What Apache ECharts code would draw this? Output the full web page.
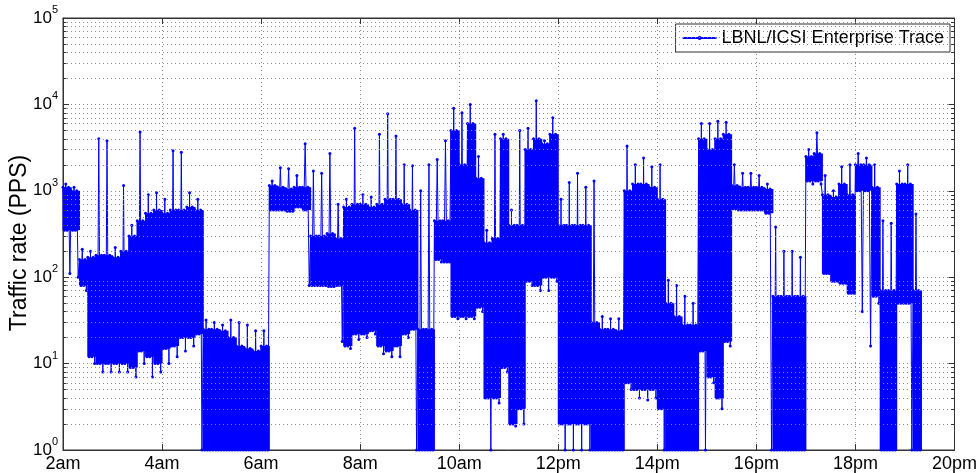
<!DOCTYPE html>
<html><head><meta charset="utf-8">
<script src="https://cdn.jsdelivr.net/npm/echarts@6/dist/echarts.min.js"></script>
<style>html,body{margin:0;padding:0;background:#fff}#c{width:980px;height:473px}</style>
</head><body><div id="c"></div>
<script>
const seriesName = 'LBNL/ICSI Enterprise Trace';
const yAxisName = 'Traffic rate (PPS)';
const startHour = 2;          // trace starts at 2am
const binMinutes = 10;        // each entry below summarises a 10-minute slice
// per-slice highest spike (PPS)
const binHi = [1200,1100,210,200,4000,3800,220,1150,400,4800,
  900,950,800,2900,2800,950,800,32,30,28,
  32,30,28,24,24,1300,1850,1800,1500,3500,
  1700,1600,2700,700,800,5300,900,850,4500,7800,
  4300,2000,1950,1000,2000,2300,3800,9000,8000,10000,
  2500,350,4500,4500,600,5000,5300,11000,3800,7000,
  800,1250,1600,1100,1300,35,33,33,3300,2000,
  2400,1900,2000,92,80,60,50,6000,6000,6400,
  6200,2000,1600,1600,1500,1200,380,200,200,170,
  3000,4700,1500,1000,1900,2000,2700,2400,2000,450,
  420,1700,2000,540];
// per-slice top of the dense core (PPS)
const binTop = [1100,1000,160,170,180,180,170,200,300,450,
  550,600,550,600,600,650,600,25,25,24,
  20,16,15,14,16,1150,1100,1050,1100,1100,
  300,300,320,280,650,700,700,650,700,800,
  800,700,600,25,25,450,450,5000,2000,6000,
  1400,250,280,4000,400,400,3000,4000,3500,4500,
  400,400,400,400,30,25,25,24,1000,1200,
  1200,1100,800,50,35,28,28,4000,3000,4000,
  4500,1150,1100,1100,1100,1050,60,60,60,60,
  2500,2700,900,850,1200,900,2000,2000,1100,70,
  70,1200,1200,70];
// per-slice bottom of the dense core (PPS)
const binLo = [350,350,80,12,10,10,10,10,9,14,
  12,10,15,16,20,20,22,1,1,1,
  1,1,1,1,1,600,600,580,650,600,
  80,80,78,80,16,22,22,24,16,14,
  16,22,25,1,1,160,150,35,35,35,
  45,4,4,9,2,3,90,80,100,100,
  2,2,2,2,1,1,1,1,6,5,
  5,5,3,1,1,1,1,14,7,4,
  18,620,600,600,600,550,1,1,1,1,
  1300,1300,110,90,85,65,1000,1000,60,1,
  1,50,50,1];
// per-slice lowest outlier (PPS)
const binDip = [110,100,70,10,8,8,8,8,7,10,
  7,8,10,12,14,16,1,1,1,1,
  1,1,1,1,1,600,600,580,650,80,
  80,80,78,18,15,19,20,22,13,12,
  12,20,1,1,1,150,150,33,33,33,
  40,1,3.5,8,1.9,2,80,70,70,90,
  1,1,1,1,1,1,1,1,5,4,
  3.8,4,1,1,1,1,1,1,6,3,
  16,600,600,600,600,1,1,1,1,1,
  1200,1200,110,90,85,65,40,16,50,1,
  1,50,1,1];
const xTickHours = [2,4,6,8,10,12,14,16,18,20];
const xTickLabels = ['2am','4am','6am','8am','10am','12pm','14pm','16pm','18pm','20pm'];
const yDecades = [1,10,100,1000,10000];
const yMinorMultipliers = [2,3,4,5,6,7,8,9];

const FONT = '"Liberation Sans", Arial, Helvetica, sans-serif';
const AXIS = '#333';
const GRID = '#8a8a8a';
const BLUE = '#0000ff';

// trace points built from the typed slices
const binH = binMinutes / 60;
const points = [];
const coreBands = [];
for (let i = 0; i < binHi.length; i++) {
  const t0 = startHour + i * binH;
  const vals = [binTop[i], binLo[i], binHi[i], binLo[i], binTop[i], binDip[i]];
  for (let k = 0; k < vals.length; k++) {
    points.push([t0 + k * binH / vals.length, vals[k]]);
  }
  coreBands.push([t0, t0 + binH, binLo[i], binTop[i]]);
}

const minorVals = [];
yDecades.forEach(d => yMinorMultipliers.forEach(m => minorVals.push(m * d)));
const minorGrid = minorVals.map(v => ({yAxis: v}));
const minorTicks = [];
minorVals.forEach(v => {
  minorTicks.push([{coord: [2, v]}, {coord: [2.07, v]}]);
  minorTicks.push([{coord: [19.93, v]}, {coord: [20, v]}]);
});

const labelMap = {};
xTickHours.forEach((h, i) => labelMap[h] = xTickLabels[i]);

const chart = echarts.init(document.getElementById('c'), null, {renderer: 'canvas'});
chart.setOption({
  animation: false,
  backgroundColor: '#fff',
  grid: {left: 63, right: 24, top: 18, bottom: 22, show: true, borderColor: AXIS, borderWidth: 1, backgroundColor: 'transparent'},
  legend: {
    data: [seriesName], right: 30, top: 24,
    backgroundColor: '#fff', borderColor: AXIS, borderWidth: 1,
    padding: [5, 6, 5, 6], itemWidth: 34, itemHeight: 5,
    textStyle: {fontSize: 18, fontFamily: FONT, color: '#000'}
  },
  graphic: [{
    type: 'text', x: 20, y: 243, rotation: Math.PI / 2, silent: true,
    style: {text: yAxisName, fontSize: 23, fontFamily: FONT, fill: '#000',
      align: 'center', verticalAlign: 'middle'}
  }],
  xAxis: [{
    type: 'value', min: 2, max: 20, interval: 2,
    axisLine: {show: true, lineStyle: {color: AXIS}},
    axisTick: {show: true, inside: true, length: 6, lineStyle: {color: AXIS}},
    axisLabel: {fontSize: 18, fontFamily: FONT, color: '#000', margin: 5,
      showMinLabel: true, showMaxLabel: true,
      formatter: v => labelMap[v] || ''},
    splitLine: {show: true, lineStyle: {color: GRID, type: [1, 3], width: 1}}
  }, {
    type: 'value', min: 2, max: 20, interval: 2, position: 'top',
    axisLine: {show: true, lineStyle: {color: AXIS}},
    axisTick: {show: true, inside: true, length: 6, lineStyle: {color: AXIS}},
    axisLabel: {show: false}, splitLine: {show: false}
  }],
  yAxis: [{
    type: 'log', logBase: 10, min: 1, max: 100000,
    axisLine: {show: true, lineStyle: {color: AXIS}},
    axisTick: {show: true, inside: true, length: 6, lineStyle: {color: AXIS}},
    axisLabel: {margin: 5, color: '#000', fontFamily: FONT,
      formatter: v => '{b|10}{s|' + Math.round(Math.log10(v)) + '}',
      rich: {b: {fontSize: 17, fontFamily: FONT, color: '#000'},
             s: {fontSize: 11, fontFamily: FONT, color: '#000', padding: [0, 0, 16, 0]}}},
    splitLine: {show: true, lineStyle: {color: GRID, type: [1, 3], width: 1}}
  }, {
    type: 'log', logBase: 10, min: 1, max: 100000, position: 'right',
    axisLine: {show: true, lineStyle: {color: AXIS}},
    axisTick: {show: true, inside: true, length: 6, lineStyle: {color: AXIS}},
    axisLabel: {show: false}, splitLine: {show: false}
  }],
  series: [{
    name: 'grid-minor', type: 'line', data: [], silent: true, z: 1,
    markLine: {silent: true, symbol: ['none', 'none'], label: {show: false}, animation: false,
      lineStyle: {color: GRID, type: [1, 3], width: 1}, data: minorGrid}
  }, {
    name: 'tick-minor', type: 'line', data: [], silent: true, z: 1,
    markLine: {silent: true, symbol: ['none', 'none'], label: {show: false}, animation: false,
      lineStyle: {color: AXIS, type: 'solid', width: 1}, data: minorTicks}
  }, {
    name: 'core', type: 'custom', data: coreBands, silent: true, z: 2,
    encode: {x: [0, 1], y: [2, 3]},
    renderItem: (params, api) => {
      const a = api.coord([api.value(0), api.value(3)]);
      const b = api.coord([api.value(1), api.value(2)]);
      return {type: 'rect', shape: {x: a[0] - 0.5, y: a[1], width: b[0] - a[0] + 1, height: b[1] - a[1]},
        style: {fill: BLUE}};
    }
  }, {
    name: seriesName, type: 'line', data: points, z: 3,
    symbol: 'circle', symbolSize: 3, showAllSymbol: true,
    lineStyle: {color: BLUE, width: 1},
    itemStyle: {color: BLUE},
    emphasis: {disabled: true}
  }]
});
</script>
</body></html>
